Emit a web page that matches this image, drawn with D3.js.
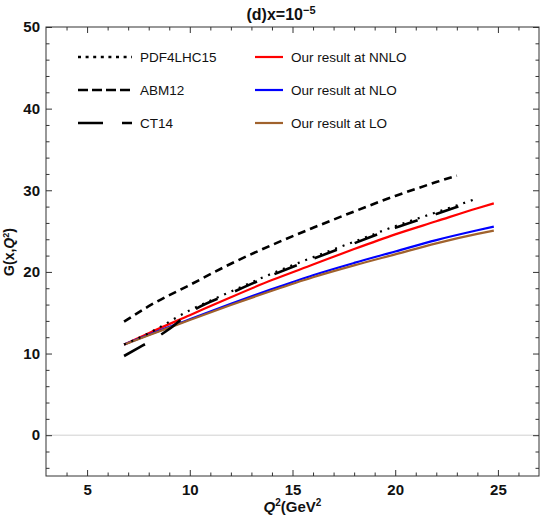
<!DOCTYPE html>
<html>
<head>
<meta charset="utf-8">
<script src="https://cdn.jsdelivr.net/npm/d3@7"></script>
<style>
  html, body { margin: 0; padding: 0; background: #fff; overflow: hidden; }
  svg { display: block; }
  svg text { font-family: "Liberation Sans", Arial, sans-serif; }
</style>
</head>
<body>
<div id="chart"></div>
<script>
// Q^2 grids and gluon values
const q2Ours = [6.8, 8, 10, 12, 14, 16, 18, 20, 22, 24, 24.8];
const nnlo = [11.1, 12.5, 14.7, 16.9, 19.0, 20.9, 22.8, 24.6, 26.2, 27.8, 28.4];
const nlo = [11.1, 12.3, 14.2, 16.1, 17.9, 19.6, 21.1, 22.5, 23.9, 25.1, 25.55];
const lo = [11.1, 12.25, 14.1, 15.95, 17.7, 19.35, 20.8, 22.15, 23.5, 24.65, 25.05];

const q2Pdf = [6.8, 8, 10, 12, 14, 16, 18, 20, 22, 24];
const pdf4lhc15 = [11.1, 12.5, 15.3, 17.6, 19.8, 21.8, 23.7, 25.6, 27.3, 29.0];

const q2Abm = [6.8, 8, 10, 12, 14, 16, 18, 20, 22, 23];
const abm12 = [13.9, 15.8, 18.4, 21.0, 23.3, 25.4, 27.4, 29.3, 31.0, 31.8];

const q2Ct = [6.8, 7.5, 8, 9, 10, 12, 14, 16, 18, 20, 22, 23.3];
const ct14 = [9.7, 10.7, 11.4, 13.0, 15.0, 17.4, 19.6, 21.6, 23.5, 25.4, 27.1, 28.2];

const xMajor = [5, 10, 15, 20, 25];
const yMajor = [0, 10, 20, 30, 40, 50];

const width = 542, height = 525;
const margin = { top: 27, right: 3, bottom: 49, left: 46 };
const innerWidth = width - margin.left - margin.right;
const innerHeight = height - margin.top - margin.bottom;

const svg = d3.select("#chart").append("svg")
    .attr("width", width)
    .attr("height", height);

const g = svg.append("g")
    .attr("transform", `translate(${margin.left},${margin.top})`);

const x = d3.scaleLinear().domain([3, 27]).range([0, innerWidth]);
const y = d3.scaleLinear().domain([-5, 50]).range([innerHeight, 0]);

const frameColor = "#333";

// zero line
g.append("line")
    .attr("x1", 0).attr("x2", innerWidth)
    .attr("y1", y(0)).attr("y2", y(0))
    .attr("stroke", "#d0d0d0").attr("stroke-width", 1);

// ticks (inside the frame, all four sides)
const xMinor = d3.range(4, 27, 1).filter(v => !xMajor.includes(v));
const yMinor = d3.range(-4, 50, 2).filter(v => !yMajor.includes(v));

function tickAxis(axis, values, size) {
    return axis.tickValues(values).tickSize(size).tickFormat("");
}
function styleTicks(sel) {
    sel.select(".domain").remove();
    sel.selectAll("text").remove();
    sel.selectAll("line").attr("stroke", frameColor);
}

g.append("g").attr("transform", `translate(0,${innerHeight})`)
    .call(tickAxis(d3.axisBottom(x), xMajor, -6)).call(styleTicks);
g.append("g").attr("transform", `translate(0,${innerHeight})`)
    .call(tickAxis(d3.axisBottom(x), xMinor, -3.5)).call(styleTicks);
g.append("g")
    .call(tickAxis(d3.axisTop(x), xMajor, -6)).call(styleTicks);
g.append("g")
    .call(tickAxis(d3.axisTop(x), xMinor, -3.5)).call(styleTicks);
g.append("g")
    .call(tickAxis(d3.axisLeft(y), yMajor, -6)).call(styleTicks);
g.append("g")
    .call(tickAxis(d3.axisLeft(y), yMinor, -3.5)).call(styleTicks);
g.append("g").attr("transform", `translate(${innerWidth},0)`)
    .call(tickAxis(d3.axisRight(y), yMajor, -6)).call(styleTicks);
g.append("g").attr("transform", `translate(${innerWidth},0)`)
    .call(tickAxis(d3.axisRight(y), yMinor, -3.5)).call(styleTicks);

// tick labels
g.append("g").attr("transform", `translate(0,${innerHeight})`)
    .call(d3.axisBottom(x).tickValues(xMajor).tickSize(0).tickPadding(8))
    .call(sel => sel.select(".domain").remove())
    .call(sel => sel.selectAll("text")
        .attr("fill", "#111")
        .style("font-size", "15px")
        .style("font-weight", "bold")
        .style("font-family", "Liberation Sans, Arial, sans-serif"));

g.append("g")
    .call(d3.axisLeft(y).tickValues(yMajor).tickSize(0).tickPadding(6))
    .call(sel => sel.select(".domain").remove())
    .call(sel => sel.selectAll("text")
        .attr("fill", "#111")
        .style("font-size", "15px")
        .style("font-weight", "bold")
        .style("font-family", "Liberation Sans, Arial, sans-serif"));

// frame
g.append("rect")
    .attr("width", innerWidth).attr("height", innerHeight)
    .attr("fill", "none").attr("stroke", frameColor).attr("stroke-width", 1);

// curves
const line = d3.line()
    .x(d => x(d[0]))
    .y(d => y(d[1]))
    .curve(d3.curveMonotoneX);

const series = [
    { q: q2Ours, v: nnlo, color: "#ff0000", dash: null, w: 2.2 },
    { q: q2Ours, v: nlo, color: "#0000ff", dash: null, w: 2.2 },
    { q: q2Ours, v: lo, color: "#a0622d", dash: null, w: 2.2 },
    { q: q2Pdf, v: pdf4lhc15, color: "#000", dash: "2,6", w: 2.2 },
    { q: q2Abm, v: abm12, color: "#000", dash: "8,5", w: 2.6 },
    { q: q2Ct, v: ct14, color: "#000", dash: "24,19", w: 2.6 }
];

series.forEach(s => {
    g.append("path")
        .datum(s.q.map((q, i) => [q, s.v[i]]))
        .attr("d", line)
        .attr("fill", "none")
        .attr("stroke", s.color)
        .attr("stroke-width", s.w)
        .attr("stroke-dasharray", s.dash);
});

// legend, title and axis titles go in their own group
const labels = svg.append("g").attr("class", "labels");

const legendLeft = [
    { label: "PDF4LHC15", color: "#000", dash: "3,4.6", w: 2.4 },
    { label: "ABM12", color: "#000", dash: "10,4", w: 2.6 },
    { label: "CT14", color: "#000", dash: "25,19", w: 2.6 }
];
const legendRight = [
    { label: "Our result at NNLO", color: "#ff0000", dash: null, w: 2.2 },
    { label: "Our result at NLO", color: "#0000ff", dash: null, w: 2.2 },
    { label: "Our result at LO", color: "#a0622d", dash: null, w: 2.2 }
];
const legendRows = [57, 90, 123];

function drawLegend(items, x0, x1, tx) {
    items.forEach((d, i) => {
        const yy = legendRows[i];
        labels.append("line")
            .attr("x1", x0).attr("x2", x1)
            .attr("y1", yy).attr("y2", yy)
            .attr("stroke", d.color)
            .attr("stroke-width", d.w)
            .attr("stroke-dasharray", d.dash);
        labels.append("text")
            .attr("x", tx).attr("y", yy + 5)
            .style("font-size", "13.5px")
            .attr("fill", "#111")
            .text(d.label);
    });
}
drawLegend(legendLeft, 78, 132, 140);
drawLegend(legendRight, 255, 283, 291);

// title
const title = labels.append("text")
    .attr("x", 281).attr("y", 20)
    .attr("text-anchor", "middle")
    .style("font-size", "16px")
    .style("font-weight", "bold")
    .attr("fill", "#111");
title.append("tspan").text("(d)x=10");
title.append("tspan").attr("dy", -6).style("font-size", "11px").text("−5");

// x label
const xLabel = labels.append("text")
    .attr("x", margin.left + innerWidth / 2).attr("y", 512)
    .attr("text-anchor", "middle")
    .style("font-size", "15px")
    .style("font-weight", "bold")
    .attr("fill", "#111");
xLabel.append("tspan").style("font-style", "italic").text("Q");
xLabel.append("tspan").attr("dy", -6).style("font-size", "10px").text("2");
xLabel.append("tspan").attr("dy", 6).text("(GeV");
xLabel.append("tspan").attr("dy", -6).style("font-size", "10px").text("2");

// y label
const yLabel = labels.append("text")
    .attr("transform", "translate(14,252) rotate(-90)")
    .attr("text-anchor", "middle")
    .style("font-size", "14px")
    .style("font-weight", "bold")
    .attr("fill", "#111");
yLabel.append("tspan").text("G(x,");
yLabel.append("tspan").style("font-style", "italic").text("Q");
yLabel.append("tspan").attr("dy", -5).style("font-size", "9px").text("2");
yLabel.append("tspan").attr("dy", 5).text(")");
</script>
</body>
</html>
